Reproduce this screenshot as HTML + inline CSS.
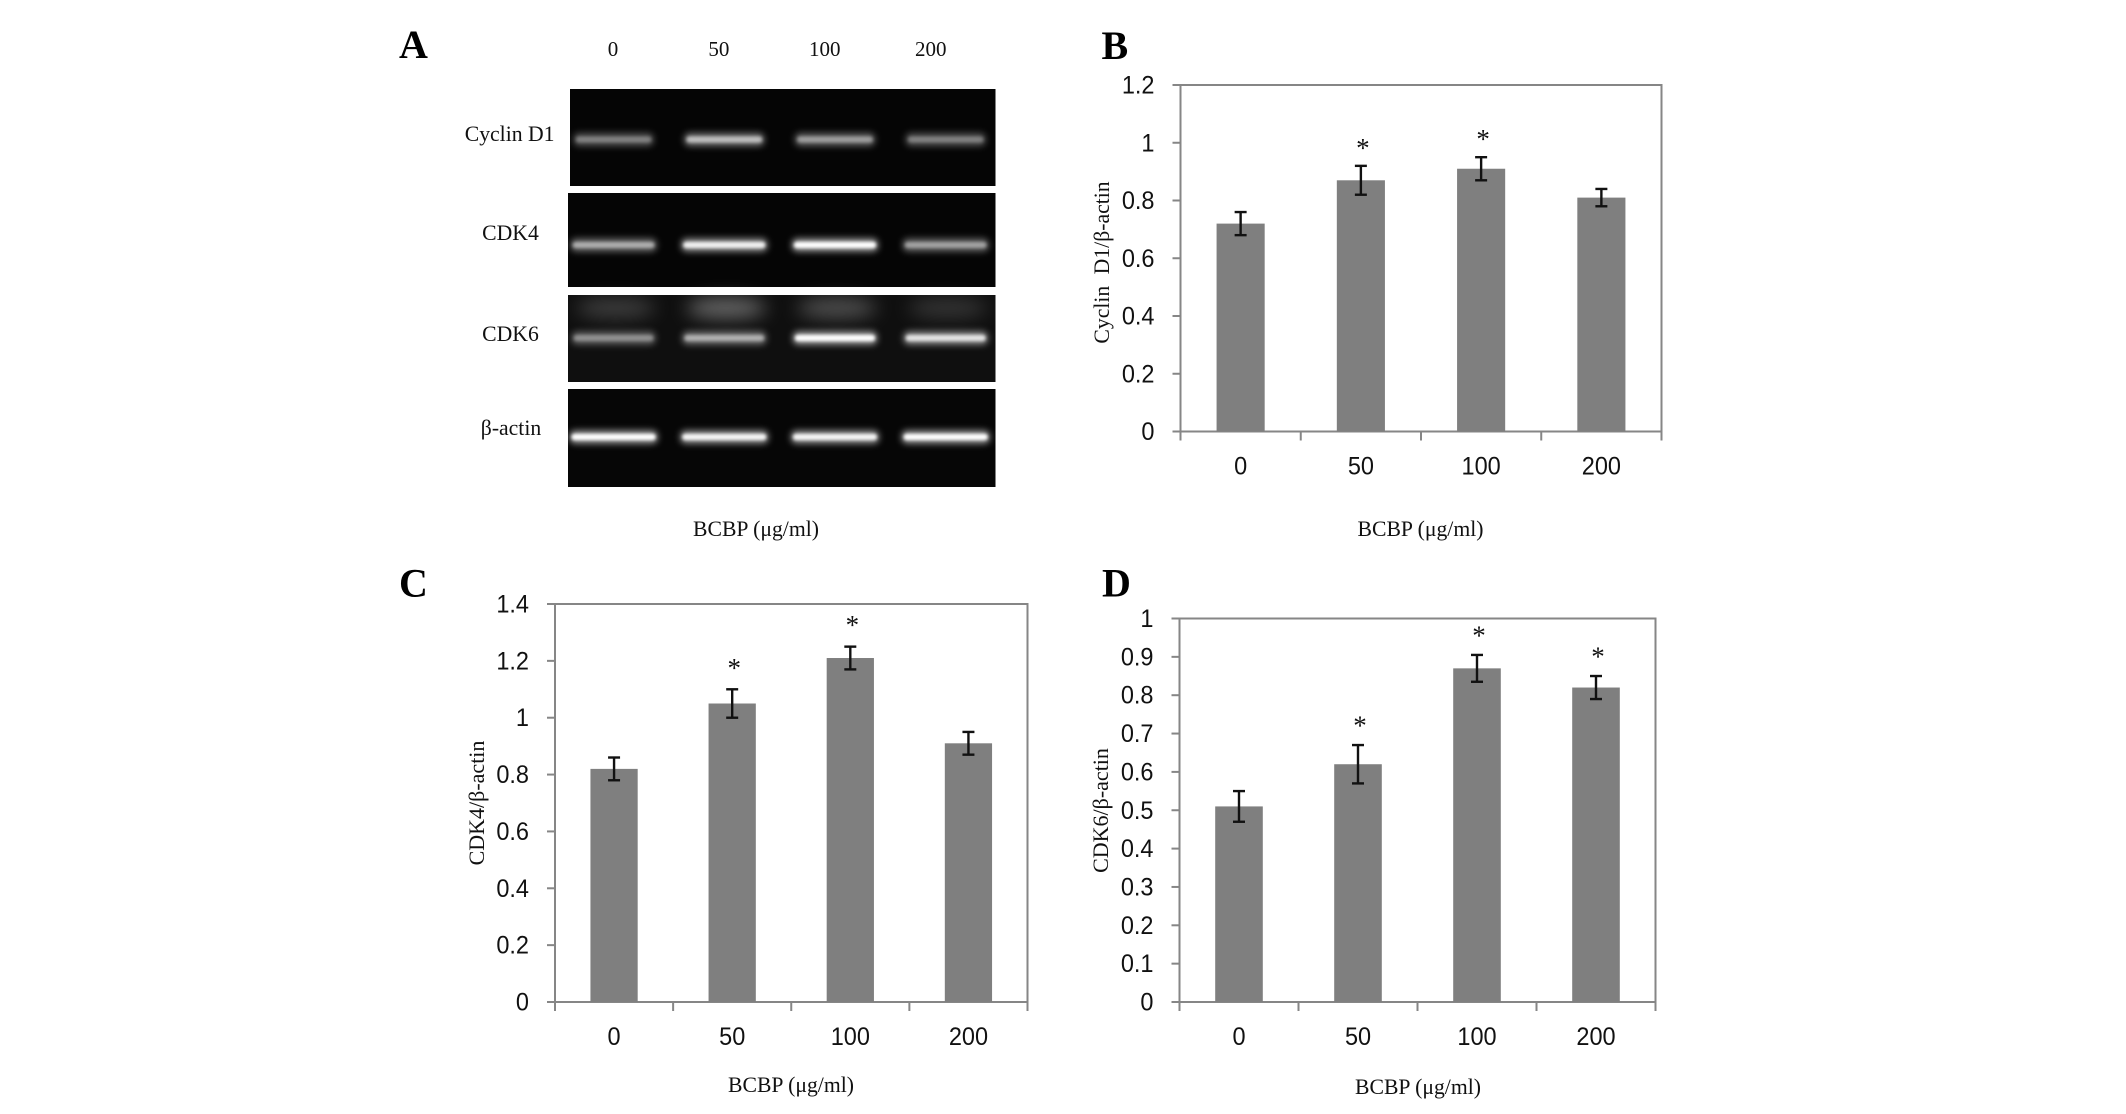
<!DOCTYPE html>
<html lang="en">
<head>
<meta charset="utf-8">
<title>BCBP dose response</title>
<style>
html,body{margin:0;padding:0;background:#fff;width:2126px;height:1114px;overflow:hidden}
svg{display:block}
.serif{font-family:"Liberation Serif",serif;fill:#111}
.sans{font-family:"Liberation Sans",sans-serif;fill:#111}
.letter{font-family:"Liberation Serif",serif;font-weight:bold;font-size:40px;fill:#000}
</style>
</head>
<body>
<svg id="figure" width="2126" height="1114" viewBox="0 0 2126 1114" xmlns="http://www.w3.org/2000/svg">
  <defs>
    <filter id="blurWide" x="-30%" y="-200%" width="160%" height="500%"><feGaussianBlur stdDeviation="3.4"/></filter>
    <filter id="blurCore" x="-30%" y="-200%" width="160%" height="500%"><feGaussianBlur stdDeviation="1.7"/></filter>
    <filter id="blurHaze" x="-50%" y="-100%" width="200%" height="300%"><feGaussianBlur stdDeviation="9"/></filter>
  </defs>
  <rect width="2126" height="1114" fill="#ffffff"/>

  <text class="letter" x="399" y="58">A</text>
  <text class="letter" x="1101.5" y="59">B</text>
  <text class="letter" x="399" y="596.5">C</text>
  <text class="letter" x="1102" y="596.5">D</text>

  <g id="gelLayer"></g>

  <text class="serif" x="554.5" y="141" font-size="21.7" text-anchor="end">Cyclin D1</text>
  <text class="serif" x="510.5" y="240" font-size="21.7" text-anchor="middle">CDK4</text>
  <text class="serif" x="510.5" y="341" font-size="21.7" text-anchor="middle">CDK6</text>
  <text class="serif" x="511" y="435" font-size="21.7" text-anchor="middle">β-actin</text>
  <text class="serif" x="756" y="536" font-size="21.7" text-anchor="middle">BCBP (μg/ml)</text>

  <g id="chartB"></g>
  <g id="chartC"></g>
  <g id="chartD"></g>

  <text class="serif" x="1420.5" y="536" font-size="21.7" text-anchor="middle">BCBP (μg/ml)</text>
  <text class="serif" x="791" y="1092" font-size="21.7" text-anchor="middle">BCBP (μg/ml)</text>
  <text class="serif" x="1418" y="1094" font-size="21.7" text-anchor="middle">BCBP (μg/ml)</text>
  <text class="serif" transform="translate(1109 262.5) rotate(-90)" font-size="21.7" word-spacing="6" text-anchor="middle">Cyclin D1/β-actin</text>
  <text class="serif" transform="translate(484 803) rotate(-90)" font-size="22" text-anchor="middle">CDK4/β-actin</text>
  <text class="serif" transform="translate(1108 810.5) rotate(-90)" font-size="22" text-anchor="middle">CDK6/β-actin</text>
</svg>

<script>
const doseCategories = ['0', '50', '100', '200'];

const cyclinValues = [0.72, 0.87, 0.91, 0.81];
const cyclinErrors = [0.04, 0.05, 0.04, 0.03];
const cyclinSignificant = [false, true, true, false];
const cyclinTicks = ['0', '0.2', '0.4', '0.6', '0.8', '1', '1.2'];

const cdk4Values = [0.82, 1.05, 1.21, 0.91];
const cdk4Errors = [0.04, 0.05, 0.04, 0.04];
const cdk4Significant = [false, true, true, false];
const cdk4Ticks = ['0', '0.2', '0.4', '0.6', '0.8', '1', '1.2', '1.4'];

const cdk6Values = [0.51, 0.62, 0.87, 0.82];
const cdk6Errors = [0.04, 0.05, 0.035, 0.03];
const cdk6Significant = [false, true, true, true];
const cdk6Ticks = ['0', '0.1', '0.2', '0.3', '0.4', '0.5', '0.6', '0.7', '0.8', '0.9', '1'];

const gelCyclinBands = [0.52, 0.74, 0.62, 0.52];
const gelCdk4Bands = [0.68, 0.94, 1, 0.64];
const gelCdk6Bands = [0.56, 0.68, 1, 0.88];
const gelActinBands = [1, 0.96, 0.96, 1];
const gelCdk6Haze = [0.2, 0.38, 0.28, 0.16];

const SVGNS = 'http://www.w3.org/2000/svg';

function make(parent, tag, attrs, text) {
  const el = document.createElementNS(SVGNS, tag);
  for (const k in attrs) el.setAttribute(k, attrs[k]);
  if (text !== undefined) el.textContent = text;
  parent.appendChild(el);
  return el;
}

function drawGelStrip(name, box, bandY, bandW, intensities, bg) {
  const layer = document.getElementById('gelLayer');
  const strip = make(layer, 'rect', { x: box[0], y: box[1], width: box[2], height: box[3], fill: bg });
  
  
  intensities.forEach(function (v, i) {
    const cx = 613.6 + 110.7 * i;
    const glow = make(layer, 'rect', { x: cx - bandW / 2, y: bandY - 6.5, width: bandW, height: 13, rx: 5, fill: '#ffffff', opacity: 0.6 * v, filter: 'url(#blurWide)' });
    
    
    const core = make(layer, 'rect', { x: cx - bandW / 2 + 2, y: bandY - 3, width: bandW - 4, height: 6, rx: 3, fill: '#ffffff', opacity: v * v, filter: 'url(#blurCore)' });
    
    
  });
}

function drawGel() {
  drawGelStrip('cyclin-d1', [570, 89, 425.5, 97], 139.5, 80, gelCyclinBands, '#050505');
  drawGelStrip('cdk4', [568, 193, 427.5, 94], 245, 86, gelCdk4Bands, '#050505');
  drawGelStrip('cdk6', [568, 295, 427.5, 87], 338, 84, gelCdk6Bands, '#0f0f0f');
  drawGelStrip('beta-actin', [568, 389, 427.5, 98], 437, 88, gelActinBands, '#060606');
  const layer = document.getElementById('gelLayer');
  gelCdk6Haze.forEach(function (v, i) {
    const haze = make(layer, 'ellipse', { cx: 613.6 + 110.7 * i + 2, cy: 308, rx: 40, ry: 10, fill: '#ffffff', opacity: v, filter: 'url(#blurHaze)' });
    
    
  });
  doseCategories.forEach(function (label, i) {
    const t = make(layer, 'text', { x: 613 + 105.9 * i, y: 56, 'font-size': 21, 'text-anchor': 'middle', 'class': 'serif' }, label);
    
    
  });
}

function drawBarChart(groupId, box, categories, values, errors, significant, ticks, xLabelOffset, starGap) {
  const g = document.getElementById(groupId);
  const left = box.left, right = box.right, top = box.top, bottom = box.bottom;
  const maxValue = parseFloat(ticks[ticks.length - 1]);
  const yScale = function (v) { return bottom - (v / maxValue) * (bottom - top); };
  const cellW = (right - left) / categories.length;
  const xScale = function (i) { return left + cellW * (i + 0.5); };
  const barW = cellW * 0.4;
  const axisColor = '#868686';

  const frame = make(g, 'rect', { x: left, y: top, width: right - left, height: bottom - top, fill: 'none', stroke: axisColor, 'stroke-width': 2 });
  
  

  ticks.forEach(function (label) {
    const y = yScale(parseFloat(label));
    const tick = make(g, 'line', { x1: left - 8, x2: left, y1: y, y2: y, stroke: axisColor, 'stroke-width': 2 });
    
    
    const t = make(g, 'text', { transform: 'translate(' + (left - 26) + ' ' + (y + 8.5) + ') scale(0.94 1)', 'font-size': 25, 'text-anchor': 'end', 'class': 'sans' }, label);
    
    
  });

  for (let i = 0; i <= categories.length; i++) {
    const x = left + cellW * i;
    const tick = make(g, 'line', { x1: x, x2: x, y1: bottom, y2: bottom + 9, stroke: axisColor, 'stroke-width': 2 });
    
    
  }

  categories.forEach(function (label, i) {
    const cx = xScale(i);
    const yTop = yScale(values[i]);
    const bar = make(g, 'rect', { x: cx - barW / 2, y: yTop, width: barW, height: bottom - yTop, fill: '#7f7f7f' });
    
    

    const errHi = yScale(values[i] + errors[i]);
    const errLo = yScale(values[i] - errors[i]);
    const stem = make(g, 'line', { x1: cx, x2: cx, y1: errHi, y2: errLo, stroke: '#111', 'stroke-width': 2.4 });
    
    
    [errHi, errLo].forEach(function (yy) {
      const cap = make(g, 'line', { x1: cx - 6, x2: cx + 6, y1: yy, y2: yy, stroke: '#111', 'stroke-width': 2.4 });
      
      
    });

    if (significant[i]) {
      const star = make(g, 'text', { x: cx + 2, y: errHi - starGap + 14, 'font-size': 27, 'text-anchor': 'middle', 'class': 'serif' }, '*');
      
      
    }

    const t = make(g, 'text', { transform: 'translate(' + cx + ' ' + (bottom + xLabelOffset + 8.5) + ') scale(0.94 1)', 'font-size': 25, 'text-anchor': 'middle', 'class': 'sans' }, label);
    
    
  });
}

drawGel();
drawBarChart('chartB', { left: 1180.5, right: 1661.5, top: 85, bottom: 431.5 }, doseCategories, cyclinValues, cyclinErrors, cyclinSignificant, cyclinTicks, 34.5, 23);
drawBarChart('chartC', { left: 555, right: 1027.5, top: 604, bottom: 1002 }, doseCategories, cdk4Values, cdk4Errors, cdk4Significant, cdk4Ticks, 34.5, 26.5);
drawBarChart('chartD', { left: 1179.5, right: 1655.5, top: 618.5, bottom: 1002 }, doseCategories, cdk6Values, cdk6Errors, cdk6Significant, cdk6Ticks, 34.5, 24.5);
</script>
</body>
</html>
